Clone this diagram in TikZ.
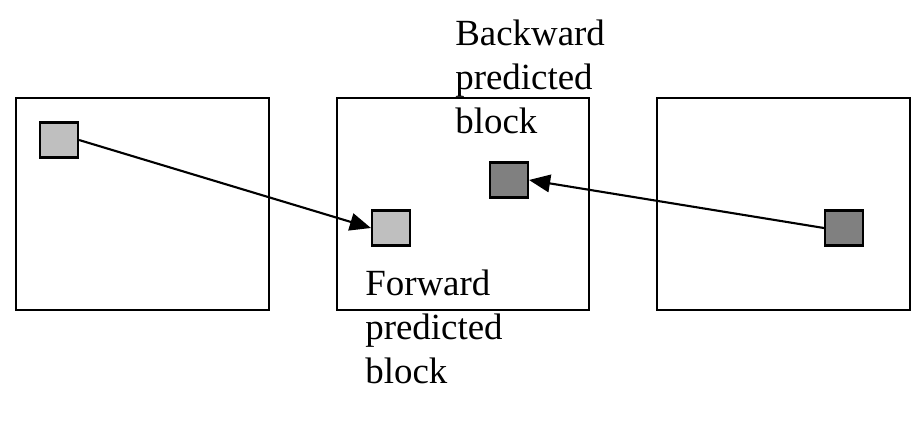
\documentclass[tikz,border=0pt]{standalone}
\usepackage{fontspec}
\setmainfont{Liberation Serif}
\usetikzlibrary{arrows.meta}
\begin{document}
\begin{tikzpicture}[x=0.02cm,y=-0.02cm,
  frame/.style={draw,line width=1.2pt},
  blk/.style={draw,line width=1.2pt,minimum width=0.76cm,minimum height=0.7cm,inner sep=0pt},
  light/.style={blk,fill=black!25},
  dark/.style={blk,fill=black!50},
  arr/.style={line width=1.2pt,-{Triangle[length=12pt,width=10pt]}},
  lbl/.style={align=left,anchor=north west,font=\fontsize{21}{25}\selectfont,inner sep=0pt}]
\useasboundingbox (0,0) rectangle (915,430);
\draw[frame] (16,98) rectangle (269,310);
\draw[frame] (337,98) rectangle (589,310);
\draw[frame] (657,98) rectangle (910,310);
\node[light] (a) at (59,140) {};
\node[light] (b) at (391,228) {};
\node[dark] (c) at (509,180) {};
\node[dark] (d) at (844,228) {};
\draw[arr] (a.east) -- (b.west);
\draw[arr] (d.west) -- (c.east);
\node[lbl] (t1) at (455,20) {Backward\\predicted\\block};
\node[lbl] (t2) at (365,270) {Forward\\predicted\\block};
\end{tikzpicture}
\end{document}
